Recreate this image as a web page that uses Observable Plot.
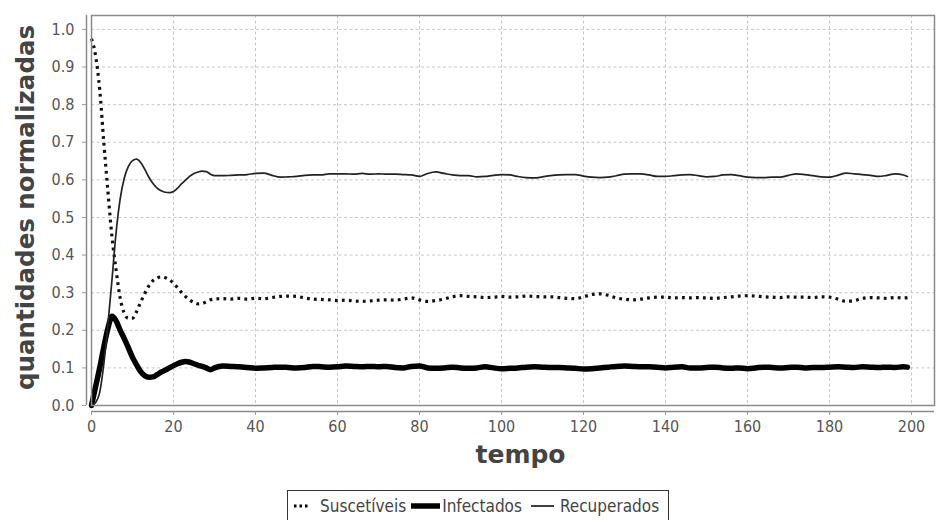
<!DOCTYPE html>
<html>
<head>
<meta charset="utf-8">
<script src="https://cdn.jsdelivr.net/npm/d3@7"></script>
<script src="https://cdn.jsdelivr.net/npm/@observablehq/plot@0.6"></script>
<style>
  body { margin: 0; background: #fff; }
  #legend {
    margin-left: 287px; margin-top: 12px; width: 382px; height: 31px;
    border: 1.5px solid #333; box-sizing: border-box;
    display: flex; align-items: center; gap: 0;
    font-family: "DejaVu Sans Condensed", "DejaVu Sans", sans-serif; font-stretch: condensed;
    font-size: 17px; color: #444; white-space: nowrap;
  }
  #legend svg { display: block; }
</style>
</head>
<body>
<div id="chart"></div>
<div id="legend"></div>
<script>
// time points
const tempo = [
  0,1,2,3,4,5,6,7,8,9,10,11,12,13,14,15,16,17,18,19,20,21,22,23,24,25,26,27,28,29,30,
  32,34,36,38,40,42,44,46,48,50,
  52,54,56,58,60,62,64,66,68,70,
  72,74,76,78,80,82,84,86,88,90,
  92,94,96,98,100,102,104,106,108,110,
  112,114,116,118,120,122,124,126,128,130,
  132,134,136,138,140,142,144,146,148,150,
  152,154,156,158,160,162,164,166,168,170,
  172,174,176,178,180,182,184,186,188,190,
  192,194,196,198,199
];
const suscetiveis = [
  0.975,0.930,0.840,0.700,0.570,0.448,0.360,0.285,0.245,0.232,0.232,0.250,0.275,0.298,0.318,0.332,0.339,0.342,0.340,0.334,0.325,0.313,0.300,0.289,0.280,0.274,0.270,0.271,0.276,0.281,0.283,
  0.284,0.283,0.285,0.283,0.285,0.284,0.287,0.290,0.291,0.290,
  0.286,0.283,0.282,0.281,0.279,0.280,0.278,0.277,0.278,0.280,
  0.281,0.280,0.283,0.286,0.281,0.277,0.279,0.283,0.289,0.292,
  0.290,0.289,0.287,0.288,0.290,0.288,0.289,0.291,0.290,0.289,
  0.289,0.287,0.285,0.284,0.289,0.295,0.297,0.293,0.286,0.283,
  0.281,0.283,0.286,0.288,0.288,0.286,0.287,0.286,0.287,0.286,
  0.285,0.287,0.289,0.291,0.292,0.291,0.289,0.288,0.287,0.289,
  0.288,0.288,0.287,0.289,0.288,0.283,0.277,0.279,0.285,0.287,
  0.286,0.285,0.287,0.286,0.287
];
const infectados = [
  0.000,0.050,0.100,0.155,0.205,0.237,0.225,0.200,0.178,0.153,0.128,0.108,0.090,0.079,0.075,0.076,0.082,0.089,0.094,0.100,0.106,0.111,0.115,0.117,0.115,0.111,0.107,0.104,0.100,0.095,0.100,
  0.105,0.104,0.103,0.101,0.099,0.100,0.101,0.102,0.101,0.100,
  0.101,0.104,0.103,0.102,0.103,0.105,0.104,0.103,0.104,0.103,
  0.104,0.101,0.100,0.104,0.105,0.100,0.099,0.100,0.102,0.100,
  0.099,0.100,0.103,0.100,0.098,0.099,0.100,0.102,0.103,0.102,
  0.101,0.101,0.100,0.099,0.097,0.098,0.100,0.102,0.104,0.105,
  0.104,0.103,0.103,0.102,0.100,0.102,0.103,0.100,0.100,0.101,
  0.102,0.100,0.099,0.100,0.098,0.100,0.102,0.101,0.100,0.101,
  0.102,0.100,0.101,0.101,0.102,0.103,0.102,0.101,0.103,0.102,
  0.101,0.102,0.101,0.103,0.102
];
const recuperados = [
  0.000,0.008,0.035,0.110,0.215,0.335,0.460,0.550,0.605,0.636,0.651,0.655,0.646,0.628,0.607,0.590,0.578,0.571,0.567,0.566,0.569,0.578,0.590,0.600,0.610,0.617,0.621,0.623,0.622,0.615,0.611,
  0.611,0.612,0.613,0.614,0.617,0.618,0.612,0.607,0.608,0.609,
  0.612,0.613,0.613,0.616,0.616,0.616,0.615,0.617,0.615,0.616,
  0.615,0.615,0.614,0.613,0.609,0.617,0.621,0.617,0.613,0.611,
  0.611,0.608,0.609,0.612,0.614,0.613,0.609,0.606,0.605,0.608,
  0.611,0.613,0.614,0.614,0.610,0.607,0.606,0.607,0.611,0.615,
  0.616,0.616,0.613,0.609,0.609,0.611,0.613,0.614,0.611,0.608,
  0.609,0.613,0.614,0.611,0.607,0.606,0.606,0.607,0.607,0.612,
  0.616,0.614,0.611,0.608,0.607,0.612,0.618,0.616,0.614,0.612,
  0.609,0.612,0.616,0.613,0.609
];
const xTicks = [0,20,40,60,80,100,120,140,160,180,200];
const yTicks = [0,0.1,0.2,0.3,0.4,0.5,0.6,0.7,0.8,0.9,1.0];
const seriesNames = ["Suscetíveis","Infectados","Recuperados"];
const xTitle = "tempo";
const yTitle = "quantidades normalizadas";

const rows = (vals) => tempo.map((t, i) => ({t, v: vals[i]}));
const dS = rows(suscetiveis), dI = rows(infectados), dR = rows(recuperados);

const tickFont = '"DejaVu Sans Condensed", "DejaVu Sans", sans-serif';
const titleFont = '"DejaVu Sans", sans-serif';

const chart = Plot.plot({
  width: 937,
  height: 478,
  marginLeft: 91,
  marginRight: 3,
  marginTop: 15,
  marginBottom: 73,
  style: {fontFamily: tickFont, fontSize: "16px", background: "#fff"},
  x: {domain: [0, 205.6], label: null},
  y: {domain: [0, 1.037], label: null},
  marks: [
    Plot.gridX(xTicks, {stroke: "#c8c8c8", strokeOpacity: 1, strokeDasharray: "3,2.5"}),
    Plot.gridY(yTicks, {stroke: "#c8c8c8", strokeOpacity: 1, strokeDasharray: "3,2.5"}),
    Plot.line(dS, {x: "t", y: "v", stroke: "#111", strokeWidth: 3.2, strokeDasharray: "2.8,4.2", curve: "monotone-x", strokeLinecap: "butt"}),
    Plot.line(dI, {x: "t", y: "v", stroke: "#000", strokeWidth: 5.5, curve: "monotone-x"}),
    Plot.line(dR, {x: "t", y: "v", stroke: "#222", strokeWidth: 1.7, curve: "monotone-x"}),
    Plot.frame({stroke: "#8a8a8a", strokeWidth: 1.5}),
    Plot.ruleY([0], {dy: 6, stroke: "#8a8a8a", strokeWidth: 1.5}),
    Plot.ruleX([0], {dx: -5, stroke: "#8a8a8a", strokeWidth: 1.5}),
    Plot.axisX(xTicks, {dy: 6, tickSize: 4, tickPadding: 5, stroke: "#999", fill: "#555", fontSize: 16, tickFormat: d3.format("d")}),
    Plot.axisY(yTicks, {dx: -5, tickSize: 4, tickPadding: 8, stroke: "#999", fill: "#555", fontSize: 16, tickFormat: d3.format(".1f")}),
    Plot.text([xTitle], {text: d => d, frameAnchor: "bottom", textAnchor: "middle", dy: 57, dx: 7.5, fontFamily: titleFont, fontWeight: "bold", fontSize: 25, fill: "#444"}),
    Plot.text([yTitle], {text: d => d, frameAnchor: "left", textAnchor: "middle", rotate: -90, dx: -65, dy: -3, fontFamily: titleFont, fontWeight: "bold", fontSize: 24.5, fill: "#444"})
  ]
});
document.getElementById("chart").appendChild(chart);

// legend
const legend = d3.select("#legend");
const swatches = [
  {w: 14, sw: 3, dash: "2.5,3", pad: [6, 12]},
  {w: 29, sw: 5.5, dash: null, pad: [5, 2]},
  {w: 23, sw: 1.5, dash: null, pad: [9, 6]}
];
seriesNames.forEach((name, i) => {
  const s = swatches[i];
  const svg = legend.append("svg").attr("width", s.w + s.pad[0] + s.pad[1]).attr("height", 20);
  svg.append("line").attr("x1", s.pad[0]).attr("x2", s.pad[0] + s.w).attr("y1", 10).attr("y2", 10)
    .attr("stroke", "#000").attr("stroke-width", s.sw).attr("stroke-dasharray", s.dash);
  legend.append("span").text(name);
});
</script>
</body>
</html>
